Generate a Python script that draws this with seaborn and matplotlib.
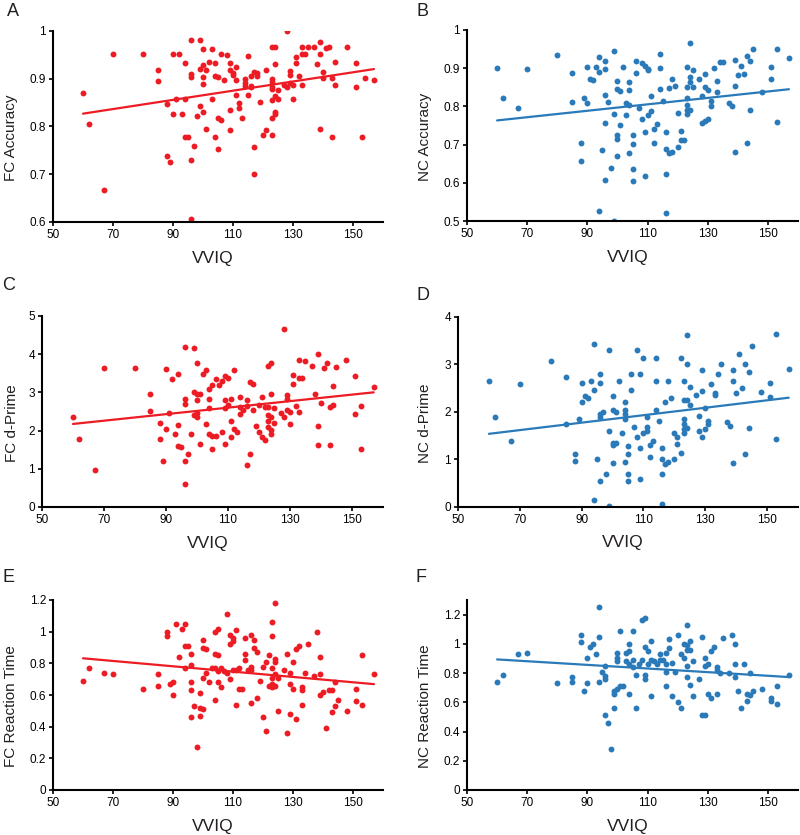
import numpy as np
import pandas as pd
import matplotlib
matplotlib.use("Agg")
import matplotlib.pyplot as plt
from matplotlib.ticker import FuncFormatter
import seaborn as sns

# values (VVIQ score vs. task measure)
fc_acc_vviq = [60, 62, 67, 70, 80, 85, 85, 88, 88, 89,
               90, 90, 91, 92, 93, 94, 94, 94, 95, 96,
               96, 96, 96, 96, 97, 98, 99, 99, 99, 100,
               100, 100, 100, 100, 101, 101, 102, 103, 103, 104,
               104, 104, 105, 105, 105, 106, 106, 107, 108, 109,
               109, 109, 109, 110, 110, 111, 111, 111, 112, 112,
               113, 114, 114, 114, 115, 115, 116, 116, 116, 117,
               117, 117, 118, 118, 119, 120, 121, 121, 123, 123,
               123, 123, 123, 123, 123, 123, 124, 124, 124, 124,
               124, 125, 125, 127, 128, 128, 129, 129, 129, 130,
               130, 131, 131, 132, 133, 133, 133, 134, 135, 137,
               138, 139, 139, 140, 140, 139, 141, 142, 143, 143,
               144, 144, 148, 151, 151, 153, 154, 157]
fc_acc = [.870, .806, .666, .951, .951, .919, .896, .847, .739, .725,
          .951, .826, .857, .951, .826, .934, .857, .779, .779, .981,
          .910, .903, .730, .607, .760, .822, .921, .843, .981, .962,
          .929, .903, .889, .830, .919, .795, .935, .962, .857, .932,
          .778, .906, .903, .817, .753, .951, .814, .898, .950, .835,
          .793, .932, .919, .907, .913, .898, .925, .866, .849, .838,
          .817, .892, .899, .884, .867, .948, .906, .885, .882, .758,
          .700, .914, .912, .905, .852, .782, .918, .793, .894, .879,
          .967, .882, .900, .856, .817, .782, .967, .930, .864, .826,
          .830, .857, .877, .886, .882, .999, .891, .907, .916, .857,
          .886, .945, .934, .905, .967, .952, .887, .952, .967, .967,
          .931, .952, .976, .901, .915, .794, .964, .967, .901, .778,
          .936, .886, .967, .932, .882, .778, .902, .898]

nc_acc_vviq = [60, 62, 67, 70, 80, 85, 85, 88, 88, 89,
               90, 90, 91, 92, 93, 94, 94, 94, 95, 96,
               96, 96, 96, 96, 97, 98, 99, 99, 99, 100,
               100, 100, 100, 100, 101, 101, 102, 103, 103, 104,
               104, 104, 104, 105, 105, 105, 105, 106, 106, 107,
               108, 108, 109, 109, 109, 110, 110, 110, 111, 111,
               112, 112, 113, 114, 114, 114, 115, 116, 116, 116,
               116, 117, 117, 118, 118, 119, 120, 120, 121, 121,
               122, 123, 123, 123, 123, 123, 123, 124, 124, 124,
               124, 125, 125, 127, 128, 128, 129, 129, 129, 130,
               130, 131, 131, 132, 133, 133, 134, 135, 137, 138,
               139, 139, 139, 140, 141, 142, 143, 143, 144, 144,
               145, 148, 151, 151, 153, 153, 157]
nc_acc = [.900, .823, .797, .899, .935, .888, .812, .704, .657, .823,
          .902, .808, .872, .870, .902, .929, .889, .526, .687, .918,
          .899, .829, .756, .607, .812, .638, .946, .781, .500, .867,
          .845, .726, .715, .670, .841, .752, .903, .808, .777, .864,
          .842, .803, .677, .726, .701, .635, .604, .918, .888, .796,
          .767, .913, .907, .732, .617, .899, .896, .777, .789, .827,
          .740, .704, .753, .938, .900, .845, .815, .732, .688, .622,
          .522, .848, .677, .873, .680, .854, .782, .693, .736, .711,
          .711, .902, .852, .823, .804, .791, .781, .965, .876, .865,
          .791, .894, .852, .872, .826, .756, .885, .851, .761, .842,
          .767, .815, .802, .900, .867, .839, .915, .917, .809, .801,
          .922, .854, .680, .882, .905, .886, .933, .704, .920, .791,
          .950, .839, .902, .872, .950, .759, .927]

fc_dp_vviq = [60, 62, 67, 70, 80, 85, 85, 88, 88, 89,
              90, 90, 91, 92, 93, 94, 94, 94, 95, 96,
              96, 96, 96, 96, 97, 98, 99, 99, 99, 100,
              100, 100, 100, 100, 101, 101, 102, 103, 103, 104,
              104, 104, 104, 105, 105, 105, 106, 106, 107, 108,
              108, 109, 109, 109, 109, 110, 110, 111, 111, 111,
              112, 112, 113, 114, 114, 114, 115, 116, 116, 116,
              117, 117, 118, 118, 119, 120, 120, 121, 121, 122,
              122, 123, 123, 123, 123, 123, 124, 124, 124, 124,
              124, 125, 125, 127, 128, 128, 129, 129, 129, 130,
              130, 131, 131, 132, 133, 133, 133, 134, 135, 137,
              138, 139, 139, 139, 140, 141, 142, 143, 143, 144,
              144, 145, 148, 151, 151, 153, 153, 157]
fc_dp = [2.36, 1.77, 0.96, 3.63, 3.63, 2.97, 2.51, 2.21, 1.78, 1.20,
         3.61, 2.05, 2.45, 3.34, 1.91, 3.47, 2.15, 1.60, 1.56, 4.20,
         2.84, 2.69, 1.21, 0.61, 1.40, 1.90, 4.16, 3.00, 2.40, 2.45,
         3.76, 2.95, 2.81, 2.36, 1.66, 2.97, 3.47, 3.58, 2.17, 3.10,
         2.84, 2.58, 1.90, 3.19, 1.86, 1.51, 3.35, 1.86, 3.19, 3.29,
         1.97, 3.43, 2.80, 2.58, 1.64, 3.38, 2.68, 2.82, 2.26, 1.82,
         3.58, 2.05, 1.97, 2.88, 2.62, 2.43, 2.53, 2.64, 2.80, 1.09,
         3.28, 1.40, 3.22, 2.55, 2.13, 2.68, 1.96, 2.88, 1.84, 2.62,
         1.75, 3.69, 2.62, 2.40, 2.25, 2.10, 3.78, 2.95, 2.36, 2.01,
         1.91, 2.60, 2.19, 2.45, 4.65, 2.36, 2.93, 2.84, 2.53, 2.48,
         2.17, 3.45, 3.23, 2.64, 3.85, 3.37, 2.50, 3.38, 3.82, 3.69,
         2.97, 4.00, 2.12, 1.62, 2.73, 3.63, 3.78, 2.62, 1.63, 3.16,
         2.68, 3.67, 3.85, 3.44, 2.44, 2.64, 1.51, 3.15]

nc_dp_vviq = [60, 62, 67, 70, 80, 85, 85, 88, 88, 89,
              90, 90, 91, 92, 93, 94, 94, 94, 95, 96,
              96, 96, 96, 96, 97, 98, 99, 99, 99, 100,
              100, 100, 100, 100, 101, 101, 102, 103, 104, 104,
              104, 104, 104, 105, 105, 105, 105, 106, 106, 107,
              108, 108, 109, 109, 109, 110, 110, 111, 111, 111,
              112, 112, 113, 114, 114, 114, 115, 116, 116, 116,
              116, 117, 117, 118, 118, 119, 120, 120, 121, 121,
              122, 122, 123, 123, 123, 123, 123, 123, 124, 124,
              124, 124, 125, 125, 127, 128, 128, 129, 129, 129,
              130, 130, 131, 131, 132, 133, 133, 134, 135, 137,
              138, 139, 139, 139, 140, 141, 142, 143, 143, 144,
              144, 145, 148, 151, 151, 153, 153, 157]
nc_dp = [2.65, 1.89, 1.38, 2.58, 3.07, 2.74, 1.74, 1.12, 0.96, 1.85,
         2.60, 2.22, 2.34, 2.29, 2.66, 3.43, 2.46, 0.14, 1.02, 2.81,
         2.60, 1.96, 1.89, 0.55, 1.99, 0.69, 3.31, 1.59, 0.02, 2.34,
         2.05, 1.35, 1.30, 0.93, 2.01, 1.35, 2.66, 1.55, 2.20, 2.04,
         1.96, 1.85, 0.95, 1.29, 1.11, 0.70, 0.54, 2.81, 2.46, 1.69,
         3.31, 1.47, 2.81, 1.25, 0.58, 3.14, 1.56, 1.89, 1.69, 1.59,
         1.30, 1.05, 1.38, 3.14, 2.65, 2.05, 1.82, 1.25, 1.00, 0.69,
         0.06, 2.22, 0.91, 2.65, 0.95, 2.29, 1.56, 1.02, 1.47, 1.33,
         3.14, 1.14, 2.66, 2.26, 1.85, 1.74, 1.65, 1.55, 3.63, 3.00,
         2.26, 1.66, 2.53, 2.15, 2.35, 1.91, 1.59, 2.88, 2.44, 1.47,
         2.08, 1.64, 1.82, 1.74, 2.59, 2.40, 2.36, 2.79, 3.00, 1.79,
         1.71, 2.88, 2.65, 0.93, 2.39, 3.22, 2.50, 3.02, 1.12, 2.84,
         1.66, 3.38, 2.42, 2.61, 2.31, 3.65, 1.44, 2.91]

fc_rt_vviq = [60, 62, 67, 70, 80, 85, 85, 88, 88, 89,
              90, 90, 91, 92, 93, 94, 94, 94, 95, 96,
              96, 96, 96, 96, 97, 98, 99, 99, 99, 100,
              100, 100, 100, 101, 101, 102, 103, 104, 104, 104,
              104, 105, 105, 105, 105, 106, 106, 107, 108, 108,
              109, 109, 109, 110, 110, 110, 111, 111, 111, 112,
              112, 113, 114, 114, 114, 115, 116, 116, 116, 116,
              117, 117, 118, 118, 119, 120, 120, 121, 121, 122,
              122, 123, 123, 123, 123, 123, 123, 124, 124, 124,
              124, 124, 125, 125, 127, 128, 128, 129, 129, 129,
              130, 130, 131, 131, 132, 133, 133, 133, 134, 135,
              137, 138, 139, 139, 139, 140, 141, 142, 143, 143,
              144, 144, 145, 148, 151, 151, 153, 153, 157]
fc_rt = [.69, .77, .74, .73, .64, .73, .66, 1.00, .97, .67,
         .68, .60, 1.05, .84, 1.02, 1.05, .91, .77, .91, .86,
         .79, .68, .63, .46, .53, .27, .61, .52, .47, .95,
         .90, .71, .51, .89, .74, .68, .77, 1.00, .86, .77,
         .57, 1.02, .85, .75, .68, .77, .65, .75, 1.11, .74,
         .98, .92, .70, .96, .94, .76, 1.01, .76, .54, .77,
         .64, .64, .96, .86, .82, .76, .98, .78, .76, .55,
         .95, .90, .87, .58, .69, .78, .46, .81, .37, .85,
         .66, 1.06, .97, .77, .71, .67, .65, 1.18, .83, .81,
         .73, .66, .71, .50, .76, .86, .36, .74, .67, .48,
         .81, .64, .89, .45, .91, .65, .63, .54, .74, .92,
         .72, 1.00, .84, .73, .60, .62, .39, .63, .63, .49,
         .68, .53, .57, .50, .64, .56, .85, .54, .73]

nc_rt_vviq = [60, 62, 67, 70, 80, 85, 85, 88, 88, 89,
              90, 90, 91, 92, 93, 94, 94, 94, 95, 96,
              96, 96, 96, 97, 98, 99, 99, 99, 100, 100,
              100, 100, 101, 101, 102, 103, 103, 104, 104, 104,
              104, 105, 105, 105, 106, 106, 107, 108, 108, 109,
              109, 109, 109, 110, 110, 111, 111, 111, 112, 113,
              114, 114, 115, 116, 116, 116, 116, 117, 117, 118,
              118, 119, 120, 120, 121, 121, 122, 122, 123, 123,
              123, 123, 123, 124, 124, 124, 125, 125, 127, 128,
              128, 129, 129, 129, 130, 130, 131, 131, 132, 133,
              133, 133, 134, 135, 137, 138, 139, 139, 139, 140,
              141, 142, 143, 143, 144, 144, 145, 148, 151, 151,
              153, 153, 157]
nc_rt = [.74, .79, .93, .94, .73, .77, .74, 1.06, 1.01, .68,
         .90, .73, .98, 1.00, .93, 1.25, 1.05, .74, .81, .85,
         .78, .76, .51, .46, .28, .68, .66, .56, .94, .90,
         .88, .69, 1.09, .71, .71, .94, .88, 1.00, .95, .86,
         .66, 1.09, .89, .84, .79, .56, .86, 1.16, .89, 1.18,
         .98, .79, .76, .95, .86, 1.02, .89, .64, .88, .86,
         .93, .89, .89, .94, .86, .81, .71, 1.03, .97, .87,
         .64, .81, 1.06, .60, .93, .56, 1.00, .90, 1.13, .99,
         .96, .85, .77, 1.02, .96, .72, .88, .64, .76, 1.05,
         .51, .90, .85, .51, .86, .66, .95, .63, .98, .84,
         .82, .66, .80, 1.04, .80, 1.06, 1.00, .86, .77, .68,
         .56, .86, .66, .61, .80, .65, .68, .69, .63, .61,
         .71, .59, .79]

RED = "#ed1c24"
BLUE = "#2a7ab9"
TEXT = "#231f20"

sns.set_style("ticks")
plt.rcParams["font.family"] = ["Liberation Sans", "DejaVu Sans"]

fig = plt.figure(figsize=(8.0, 8.35), dpi=100)
W, H = 800, 835


def panel(px_left, px_top, px_right, px_bottom):
    return fig.add_axes([px_left / W, 1 - px_bottom / H,
                         (px_right - px_left) / W, (px_bottom - px_top) / H])


def draw(ax, vviq, vals, color, ylabel, ylim, yticks, ylab_x):
    df = pd.DataFrame({"VVIQ": vviq, "val": vals})
    sns.regplot(data=df, x="VVIQ", y="val", ax=ax, ci=None, color=color,
                scatter_kws={"s": 18, "alpha": 1, "linewidths": 0},
                line_kws={"lw": 1.6})
    ax.set_xlim(50, 160)
    ax.set_ylim(*ylim)
    ax.set_xticks([50, 70, 90, 110, 130, 150])
    ax.set_yticks(yticks)
    ax.yaxis.set_major_formatter(FuncFormatter(lambda v, p: f"{v:g}"))
    sns.despine(ax=ax)
    for s in ("left", "bottom"):
        ax.spines[s].set_linewidth(1.5)
        ax.spines[s].set_color("black")
    ax.tick_params(direction="out", length=3, width=1.2, labelsize=8.5,
                   colors="black", pad=2)
    ax.set_xlabel("VVIQ", fontsize=12.5, color=TEXT)
    ax.set_ylabel(ylabel, fontsize=11, color=TEXT)
    ax.xaxis.set_label_coords(0.485, -0.15)
    ax.yaxis.set_label_coords(ylab_x, 0.44)


ax_a = panel(53, 31, 383, 222)
draw(ax_a, fc_acc_vviq, fc_acc, RED, "FC Accuracy", (0.6, 1.0),
     [0.6, 0.7, 0.8, 0.9, 1.0], -0.105)
ax_b = panel(467, 30, 798, 221)
draw(ax_b, nc_acc_vviq, nc_acc, BLUE, "NC Accuracy", (0.5, 1.0),
     [0.5, 0.6, 0.7, 0.8, 0.9, 1.0], -0.105)
ax_c = panel(42, 316, 383, 507)
draw(ax_c, fc_dp_vviq, fc_dp, RED, "FC d-Prime", (0, 5),
     [0, 1, 2, 3, 4, 5], -0.068)
ax_d = panel(458, 317, 798, 507)
draw(ax_d, nc_dp_vviq, nc_dp, BLUE, "NC d-Prime", (0, 4),
     [0, 1, 2, 3, 4], -0.076)
ax_e = panel(53, 600, 383, 790)
draw(ax_e, fc_rt_vviq, fc_rt, RED, "FC Reaction Time", (0, 1.2),
     [0, 0.2, 0.4, 0.6, 0.8, 1.0, 1.2], -0.105)
ax_f = panel(467, 600, 798, 790)
draw(ax_f, nc_rt_vviq, nc_rt, BLUE, "NC Reaction Time", (0, 1.3),
     [0, 0.2, 0.4, 0.6, 0.8, 1.0, 1.2], -0.105)

for letter, x, y in [("A", 13, 12), ("B", 422, 12), ("C", 9, 285),
                     ("D", 423, 295), ("E", 8, 578), ("F", 421, 578)]:
    fig.text(x / W, 1 - y / H, letter, fontsize=13, color=TEXT,
             ha="center", va="center")

fig.savefig("out.png", dpi=100)
